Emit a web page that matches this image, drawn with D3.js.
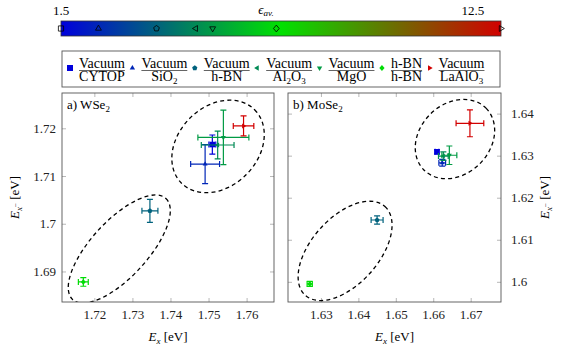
<!DOCTYPE html>
<html>
<head>
<meta charset="utf-8">
<script src="https://cdn.jsdelivr.net/npm/d3@7"></script>
<style>
body { margin: 0; background: #fff; }
</style>
</head>
<body>
<svg id="chart" width="563" height="350"></svg>
<script>
// dielectric environments (top / bottom)
var tops = ["Vacuum", "Vacuum", "Vacuum", "Vacuum", "Vacuum", "h-BN", "Vacuum"];
var bottoms = ["CYTOP", "SiO2", "h-BN", "Al2O3", "MgO", "h-BN", "LaAlO3"];
var shapes = ["square", "up", "pentagon", "left", "down", "diamond", "right"];
var epsAv = [1.5, 2.5, 4.05, 5.1, 5.55, 7.25, 13.25];
var epsTicks = [1.5, 12.5];

// a) WSe2
var wse2Ex = [1.7510, 1.7491, 1.7346, 1.7524, 1.7539, 1.7171, 1.7592];
var wse2ExErr = [0.0009, 0.0038, 0.0021, 0.0043, 0.0067, 0.0013, 0.0027];
var wse2Exm = [1.7166, 1.7125, 1.7027, 1.7165, 1.7181, 1.6878, 1.7205];
var wse2ExmErr = [0.0020, 0.0041, 0.0024, 0.0029, 0.0057, 0.0009, 0.0021];
var wse2XTicks = [1.72, 1.73, 1.74, 1.75, 1.76];
var wse2YTicks = [1.69, 1.70, 1.71, 1.72];
// ellipses: major axis end points [x1, y1, x2, y2] in data units, minor/major ratio
var wse2Ellipses = [[1.7429, 1.7085, 1.7621, 1.7239, 0.77], [1.7143, 1.6841, 1.7388, 1.7053, 0.41]];

// b) MoSe2
var mose2Ex = [1.6610, 1.6624, 1.6450, 1.6627, 1.6643, 1.6270, 1.6698];
var mose2ExErr = [0.0005, 0.0009, 0.0016, 0.0013, 0.0020, 0.0007, 0.0037];
var mose2Exm = [1.6309, 1.6283, 1.6147, 1.6299, 1.6301, 1.5995, 1.6377];
var mose2ExmErr = [0.0005, 0.0008, 0.0010, 0.0010, 0.0022, 0.0006, 0.0032];
var mose2XTicks = [1.63, 1.64, 1.65, 1.66, 1.67];
var mose2YTicks = [1.60, 1.61, 1.62, 1.63, 1.64];
var mose2Ellipses = [[1.6575, 1.6266, 1.6741, 1.6413, 0.8], [1.6258, 1.5968, 1.6471, 1.6179, 0.56]];

var FONT = "'Liberation Serif', 'DejaVu Serif', 'Times New Roman', serif";
var svg = d3.select("svg#chart").attr("font-family", FONT);
var color = d3.scaleLinear()
    .domain([1.5, (1.5 + 13.25) / 2, 13.25])
    .range(["#0000dc", "#00e100", "#d20000"]);
var fmt = d3.format("~g");

function markerPath(shape, r) {
  if (shape == "square") return "M" + (-r) + "," + (-r) + "h" + 2 * r + "v" + 2 * r + "h" + (-2 * r) + "Z";
  if (shape == "diamond") return "M0," + (-r * 1.3) + "L" + r * 1.1 + ",0L0," + r * 1.3 + "L" + (-r * 1.1) + ",0Z";
  var n = shape == "pentagon" ? 5 : 3;
  var rot = { pentagon: 0, up: 0, right: 90, down: 180, left: 270 }[shape];
  var rr = n == 3 ? r * 1.3 : r * 1.15;
  var pts = d3.range(n).map(function(k) {
    var t = (k * 360 / n + rot - 90) * Math.PI / 180;
    return [rr * Math.cos(t), rr * Math.sin(t)];
  });
  return "M" + pts.join("L") + "Z";
}

// text with digit subscripts (SiO2, Al2O3 ...)
function subText(sel, str, small) {
  var parts = str.split(/(\d)/).filter(function(p) { return p.length; });
  var shifted = false;
  parts.forEach(function(p) {
    var t = sel.append("tspan").text(p);
    if (/\d/.test(p)) { t.attr("font-size", small).attr("dy", 3); shifted = true; }
    else if (shifted) { t.attr("dy", -3); shifted = false; }
  });
}

// ---------- colorbar ----------
var cb = { x0: 61, x1: 501, y0: 21, y1: 36 };
var cbScale = d3.scaleLinear().domain([1.5, 13.25]).range([cb.x0, cb.x1]);
var grad = svg.append("defs").append("linearGradient").attr("id", "cmap");
color.domain().forEach(function(v) {
  grad.append("stop")
    .attr("offset", (v - 1.5) / (13.25 - 1.5))
    .attr("stop-color", color(v));
});
svg.append("rect")
  .attr("x", cb.x0).attr("y", cb.y0)
  .attr("width", cb.x1 - cb.x0).attr("height", cb.y1 - cb.y0)
  .attr("fill", "url(#cmap)")
  .attr("stroke", "#333").attr("stroke-width", 0.8);
svg.selectAll(".cbtick").data(epsTicks).enter().append("text")
  .attr("class", "cbtick")
  .attr("x", function(d) { return cbScale(d); })
  .attr("y", 15)
  .attr("text-anchor", "middle")
  .attr("font-size", 13)
  .text(function(d) { return fmt(d); });
var epsLabel = svg.append("text").attr("x", 266).attr("y", 14).attr("text-anchor", "middle").attr("font-size", 13);
epsLabel.append("tspan").style("font-style", "italic").text("ϵ");
epsLabel.append("tspan").style("font-style", "italic").attr("font-size", 9).attr("dy", 2).text("av.");
svg.selectAll(".cbmark").data(epsAv).enter().append("path")
  .attr("class", "cbmark")
  .attr("transform", function(d) { return "translate(" + cbScale(d) + "," + (cb.y0 + cb.y1) / 2 + ")"; })
  .attr("d", function(d, i) { return markerPath(shapes[i], 2.6); })
  .attr("fill", "none").attr("stroke", "#000").attr("stroke-width", 0.8);

// ---------- legend ----------
var lg = svg.append("g");
lg.append("rect")
  .attr("x", 62).attr("y", 51).attr("width", 438).attr("height", 36)
  .attr("fill", "#fff").attr("stroke", "#555").attr("stroke-width", 0.9);
var lx = 70;
tops.forEach(function(t, i) {
  lg.append("path")
    .attr("transform", "translate(" + lx + ",68)")
    .attr("d", markerPath(shapes[i], i == 0 ? 3 : 2.4))
    .attr("fill", color(epsAv[i]));
  var g = lg.append("g");
  var num = g.append("text").attr("y", 67.5).attr("font-size", 14).attr("text-anchor", "middle").text(t);
  var den = g.append("text").attr("y", 81).attr("font-size", 14).attr("text-anchor", "middle");
  subText(den, bottoms[i], 9);
  var w = Math.max(num.node().getComputedTextLength(), den.node().getComputedTextLength());
  var cx = lx + 9 + w / 2;
  num.attr("x", cx);
  den.attr("x", cx);
  g.append("line")
    .attr("x1", cx - w / 2).attr("x2", cx + w / 2)
    .attr("y1", 70.5).attr("y2", 70.5)
    .attr("stroke", "#222").attr("stroke-width", 0.7);
  lx = cx + w / 2 + 7.5;
});

// ---------- panels ----------
function drawPanel(p) {
  var x = d3.scaleLinear().domain(p.xDom).range([p.left, p.right]);
  var y = d3.scaleLinear().domain(p.yDom).range([p.bottom, p.top]);
  var g = svg.append("g");

  g.append("clipPath").attr("id", p.id)
    .append("rect").attr("x", p.left).attr("y", p.top)
    .attr("width", p.right - p.left).attr("height", p.bottom - p.top);

  function styleAxis(a) {
    a.attr("font-family", FONT).attr("font-size", 13);
    a.select(".domain").remove();
    a.selectAll(".tick line").attr("stroke", "#9a9a9a").attr("stroke-width", 0.7);
    a.selectAll("text").attr("fill", "#222");
  }
  g.append("g").attr("transform", "translate(0," + p.bottom + ")")
    .call(d3.axisBottom(x).tickValues(p.xTicks).tickFormat(fmt).tickSizeInner(-4).tickSizeOuter(0).tickPadding(8))
    .call(styleAxis);
  g.append("g").attr("transform", "translate(0," + p.top + ")")
    .call(d3.axisTop(x).tickValues(p.xTicks).tickFormat("").tickSizeInner(-4).tickSizeOuter(0))
    .call(styleAxis);
  g.append("g").attr("transform", "translate(" + p.left + ",0)")
    .call(d3.axisLeft(y).tickValues(p.yTicks).tickFormat(p.ySide == "left" ? fmt : "").tickSizeInner(-4).tickSizeOuter(0).tickPadding(6))
    .call(styleAxis);
  g.append("g").attr("transform", "translate(" + p.right + ",0)")
    .call(d3.axisRight(y).tickValues(p.yTicks).tickFormat(p.ySide == "right" ? fmt : "").tickSizeInner(-4).tickSizeOuter(0).tickPadding(10))
    .call(styleAxis);

  var plot = g.append("g").attr("clip-path", "url(#" + p.id + ")");

  // dashed ellipses
  p.ellipses.forEach(function(e) {
    var x1 = x(e[0]), y1 = y(e[1]), x2 = x(e[2]), y2 = y(e[3]);
    var a = Math.hypot(x2 - x1, y2 - y1) / 2;
    var ang = Math.atan2(y2 - y1, x2 - x1) * 180 / Math.PI;
    plot.append("ellipse")
      .attr("transform", "translate(" + (x1 + x2) / 2 + "," + (y1 + y2) / 2 + ") rotate(" + ang + ")")
      .attr("rx", a).attr("ry", a * e[4])
      .attr("fill", "none").attr("stroke", "#000").attr("stroke-width", 1.3)
      .attr("stroke-dasharray", "4,3.2");
  });

  // error bars and markers
  var pts = plot.selectAll(".pt").data(p.ex).enter().append("g").attr("class", "pt")
    .attr("stroke", function(d, i) { return color(epsAv[i]); })
    .attr("fill", function(d, i) { return color(epsAv[i]); })
    .attr("stroke-width", 1.2);
  pts.append("path").attr("fill", "none").attr("d", function(d, i) {
    var cx = x(d), cy = y(p.exm[i]);
    var xl = x(d - p.exErr[i]), xr = x(d + p.exErr[i]);
    var yt = y(p.exm[i] + p.exmErr[i]), yb = y(p.exm[i] - p.exmErr[i]);
    return "M" + xl + "," + cy + "H" + xr +
      "M" + xl + "," + (cy - 3) + "V" + (cy + 3) +
      "M" + xr + "," + (cy - 3) + "V" + (cy + 3) +
      "M" + cx + "," + yt + "V" + yb +
      "M" + (cx - 3) + "," + yt + "H" + (cx + 3) +
      "M" + (cx - 3) + "," + yb + "H" + (cx + 3);
  });
  pts.append("path")
    .attr("stroke", "none")
    .attr("transform", function(d, i) { return "translate(" + x(d) + "," + y(p.exm[i]) + ")"; })
    .attr("d", function(d, i) { return markerPath(shapes[i], i == 0 ? 2.8 : 2.2); });

  // frame
  g.append("rect")
    .attr("x", p.left).attr("y", p.top)
    .attr("width", p.right - p.left).attr("height", p.bottom - p.top)
    .attr("fill", "none").attr("stroke", "#555").attr("stroke-width", 0.9);

  // panel title
  var t = g.append("text").attr("x", p.left + 5).attr("y", p.top + 16).attr("font-size", 13);
  subText(t, p.title, 9);

  // axis labels
  var xl = g.append("text")
    .attr("x", (p.left + p.right) / 2).attr("y", 341)
    .attr("text-anchor", "middle").attr("font-size", 13);
  xl.append("tspan").style("font-style", "italic").text("E");
  xl.append("tspan").style("font-style", "italic").attr("font-size", 9).attr("dy", 3).text("x");
  xl.append("tspan").attr("dy", -3).text(" [eV]");

  var ly = p.ySide == "left" ? 19 : 549;
  var yl = g.append("text")
    .attr("transform", "translate(" + ly + "," + (p.top + p.bottom) / 2 + ") rotate(-90)")
    .attr("text-anchor", "middle").attr("font-size", 13);
  yl.append("tspan").style("font-style", "italic").text("E");
  yl.append("tspan").style("font-style", "italic").attr("font-size", 9).attr("dy", 3).text("x");
  yl.append("tspan").attr("font-size", 7).attr("dy", -4).text("−");
  yl.append("tspan").attr("dy", 1).text(" [eV]");
}

drawPanel({
  id: "clipA", left: 62, right: 274, top: 93, bottom: 302,
  xDom: [1.7115, 1.7672], yDom: [1.6836, 1.7274],
  xTicks: wse2XTicks, yTicks: wse2YTicks,
  ex: wse2Ex, exErr: wse2ExErr, exm: wse2Exm, exmErr: wse2ExmErr,
  ellipses: wse2Ellipses, title: "a) WSe2", ySide: "left"
});
drawPanel({
  id: "clipB", left: 288, right: 501, top: 93, bottom: 302,
  xDom: [1.6212, 1.6781], yDom: [1.5952, 1.6449],
  xTicks: mose2XTicks, yTicks: mose2YTicks,
  ex: mose2Ex, exErr: mose2ExErr, exm: mose2Exm, exmErr: mose2ExmErr,
  ellipses: mose2Ellipses, title: "b) MoSe2", ySide: "right"
});

svg.selectAll("text").style("font-family", FONT);
</script>
</body>
</html>
